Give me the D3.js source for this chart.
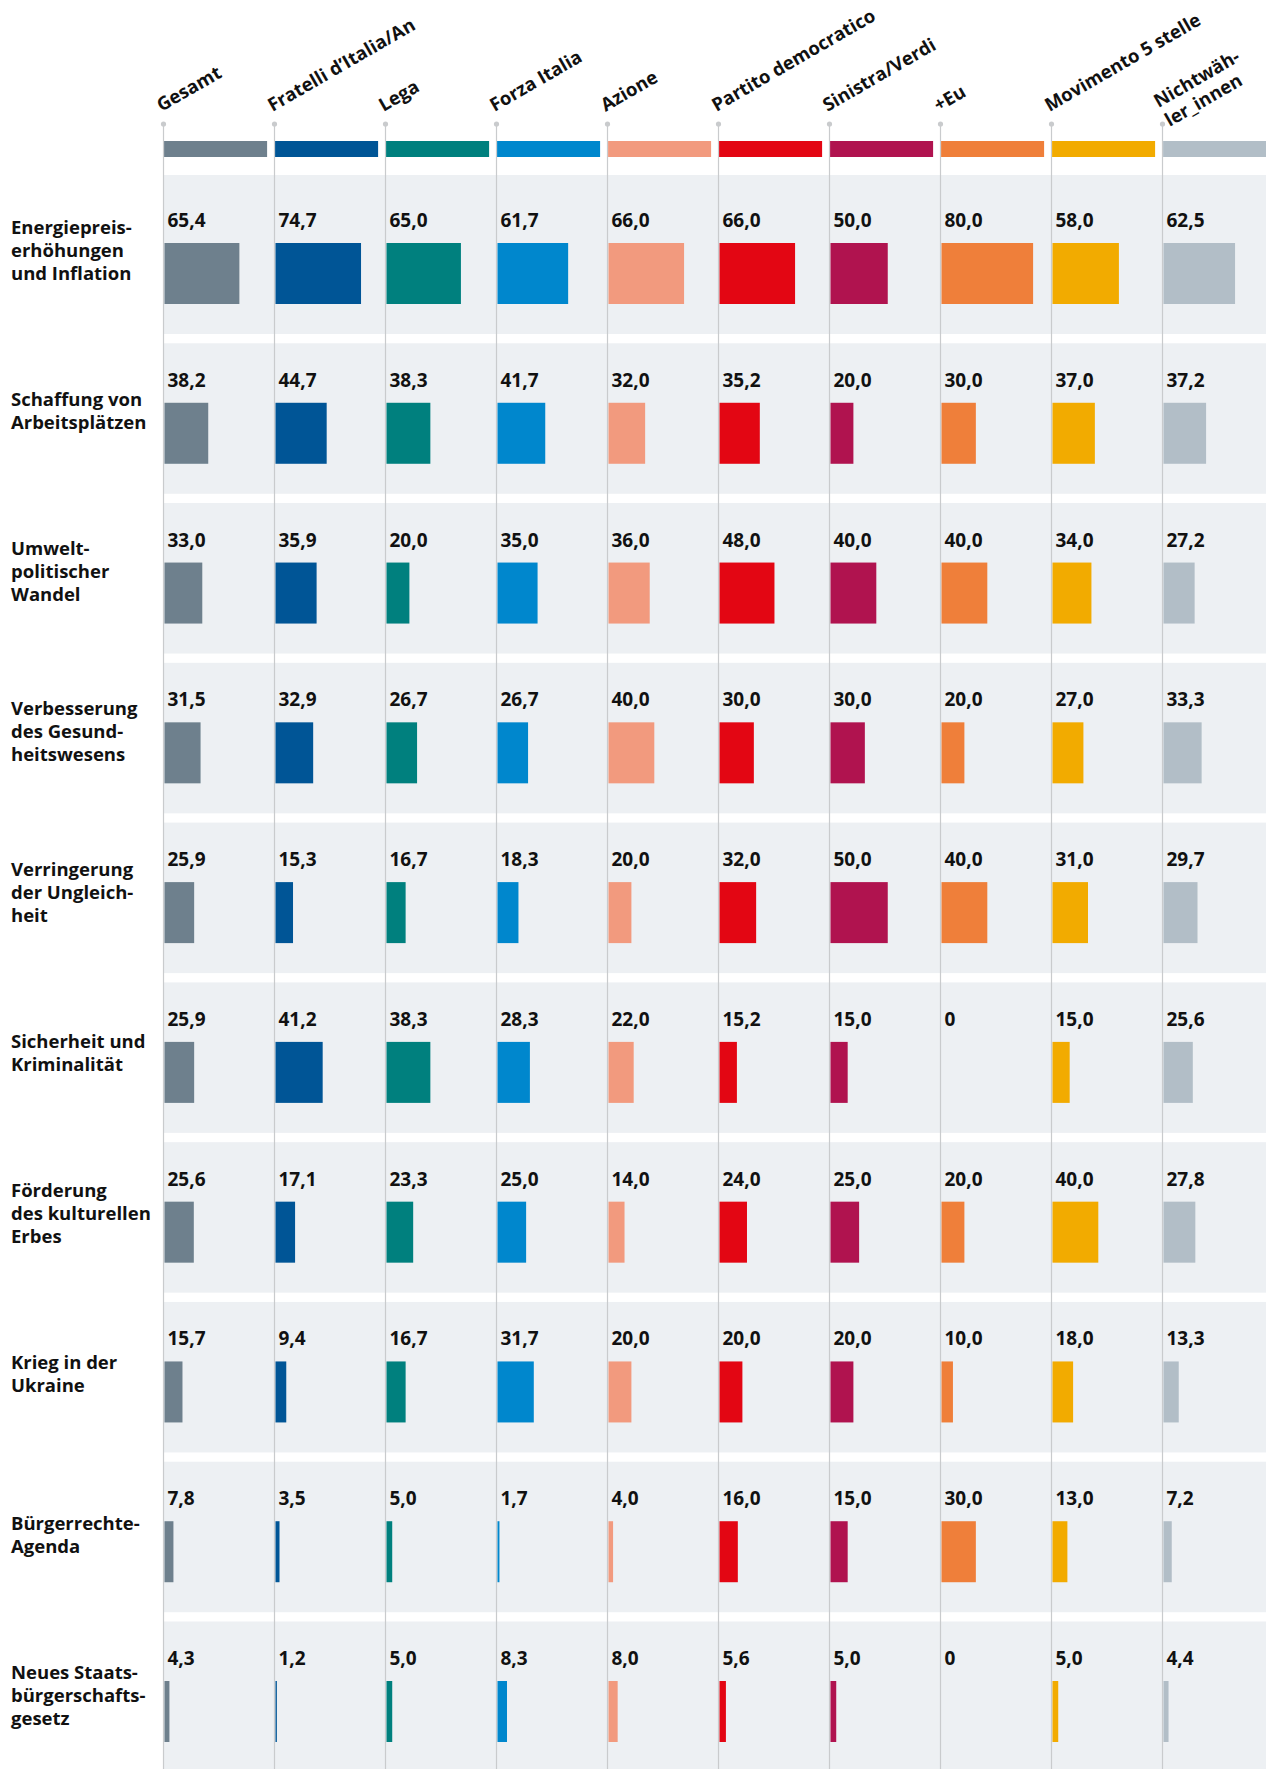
<!DOCTYPE html>
<html>
<head>
<meta charset="utf-8">
<script src="https://cdn.jsdelivr.net/npm/d3@7"></script>
<style>
  body { margin: 0; background: #fff; }
  text { font-family: "Open Sans", "Noto Sans", sans-serif; font-weight: 700; fill: #111; }
</style>
</head>
<body>
<div id="chart"></div>
<script>
// parties (header labels, multi-line as arrays) and their colours
const partyLabels = [["Gesamt"], ["Fratelli d’Italia/An"], ["Lega"], ["Forza Italia"], ["Azione"],
  ["Partito democratico"], ["Sinistra/Verdi"], ["+Eu"], ["Movimento 5 stelle"], ["Nichtwäh-", "ler_innen"]];
const partyColors = ["#6e808d", "#005596", "#00807e", "#0087cd", "#f29a7e",
  "#e30613", "#b0134f", "#ef7f3a", "#f2ab00", "#b2bec7"];

// topics (row labels)
const topics = [
  ["Energiepreis-", "erhöhungen", "und Inflation"],
  ["Schaffung von", "Arbeitsplätzen"],
  ["Umwelt-", "politischer", "Wandel"],
  ["Verbesserung", "des Gesund-", "heitswesens"],
  ["Verringerung", "der Ungleich-", "heit"],
  ["Sicherheit und", "Kriminalität"],
  ["Förderung", "des kulturellen", "Erbes"],
  ["Krieg in der", "Ukraine"],
  ["Bürgerrechte-", "Agenda"],
  ["Neues Staats-", "bürgerschafts-", "gesetz"]
];

// values per party, in topic order (percent)
const gesamt      = [65.4, 38.2, 33.0, 31.5, 25.9, 25.9, 25.6, 15.7, 7.8, 4.3];
const fratelli    = [74.7, 44.7, 35.9, 32.9, 15.3, 41.2, 17.1, 9.4, 3.5, 1.2];
const lega        = [65.0, 38.3, 20.0, 26.7, 16.7, 38.3, 23.3, 16.7, 5.0, 5.0];
const forzaItalia = [61.7, 41.7, 35.0, 26.7, 18.3, 28.3, 25.0, 31.7, 1.7, 8.3];
const azione      = [66.0, 32.0, 36.0, 40.0, 20.0, 22.0, 14.0, 20.0, 4.0, 8.0];
const pd          = [66.0, 35.2, 48.0, 30.0, 32.0, 15.2, 24.0, 20.0, 16.0, 5.6];
const sinistra    = [50.0, 20.0, 40.0, 30.0, 50.0, 15.0, 25.0, 20.0, 15.0, 5.0];
const piuEu       = [80.0, 30.0, 40.0, 20.0, 40.0, 0, 20.0, 10.0, 30.0, 0];
const m5s         = [58.0, 37.0, 34.0, 27.0, 31.0, 15.0, 40.0, 18.0, 13.0, 5.0];
const nichtwaehler = [62.5, 37.2, 27.2, 33.3, 29.7, 25.6, 27.8, 13.3, 7.2, 4.4];

const series = [gesamt, fratelli, lega, forzaItalia, azione, pd, sinistra, piuEu, m5s, nichtwaehler];

const width = 1266, height = 1769;
const barH = 61;

const svg = d3.select("#chart").append("svg")
  .attr("width", width)
  .attr("height", height);

// scales
const x = d3.scalePoint().domain(d3.range(partyLabels.length)).range([163.5, 1162.5]);
const w = d3.scaleLinear().domain([0, 100]).range([0, 114.5]);
const y = d3.scalePoint().domain(d3.range(topics.length)).range([243, 1681]);
const labelY = d3.scaleLinear().domain([0, topics.length - 1]).range([256.7, 1702]);

const fmt = v => v === 0 ? "0" : d3.format(".1f")(v).replace(".", ",");

// row backgrounds
svg.append("g").selectAll("rect")
  .data(topics)
  .join("rect")
  .attr("x", x(0))
  .attr("width", width - x(0))
  .attr("y", (d, i) => i === 0 ? 175 : y(i) - 59.5)
  .attr("height", (d, i) => i === 0 ? y(0) + 91 - 175 : (i === topics.length - 1 ? height - y(i) + 59.5 : 150.5))
  .attr("fill", "#edf0f3");

// vertical column lines with dots
const cols = svg.append("g").selectAll("g")
  .data(partyLabels)
  .join("g")
  .attr("transform", (d, i) => `translate(${x(i)},0)`);

cols.append("line")
  .attr("y1", 124).attr("y2", height)
  .attr("stroke", "#c9cbcd")
  .attr("stroke-width", 1.2);

cols.append("circle")
  .attr("cy", 124).attr("r", 2.6)
  .attr("fill", "#c9cbcd");

// colour strips
svg.append("g").selectAll("rect")
  .data(partyColors)
  .join("rect")
  .attr("x", (d, i) => x(i) + 0.6)
  .attr("y", 141)
  .attr("width", (d, i) => i === partyColors.length - 1 ? width - x(i) : 103)
  .attr("height", 16)
  .attr("fill", d => d);

// header labels
const heads = svg.append("g").selectAll("text")
  .data(partyLabels)
  .join("text")
  .attr("transform", (d, i) => d.length > 1
    ? `translate(${x(i) - 4},108) rotate(-30)`
    : `translate(${x(i) - 2},112) rotate(-30)`)
  .style("font-size", "18.5px");

heads.selectAll("tspan")
  .data(d => d)
  .join("tspan")
  .attr("x", 0)
  .attr("y", (d, j) => j * 22)
  .text(d => d);

// row labels
const rowLabels = svg.append("g").selectAll("text")
  .data(topics)
  .join("text")
  .style("font-size", "18.5px");

rowLabels.selectAll("tspan")
  .data((d, i) => d.map((t, j) => ({ t, j, n: d.length, i })))
  .join("tspan")
  .attr("x", 11)
  .attr("y", d => labelY(d.i) + (d.j - (d.n - 1) / 2) * 23)
  .text(d => d.t);

// bars and value labels
series.forEach((vals, p) => {
  const g = svg.append("g");
  g.selectAll("rect")
    .data(vals)
    .join("rect")
    .attr("x", x(p) + 1)
    .attr("y", (d, i) => y(i))
    .attr("width", d => w(d))
    .attr("height", barH)
    .attr("fill", partyColors[p]);

  g.selectAll("text")
    .data(vals)
    .join("text")
    .attr("x", x(p) + 4)
    .attr("y", (d, i) => y(i) - 16)
    .style("font-size", "19px")
    .text(d => fmt(d));
});
</script>
</body>
</html>
